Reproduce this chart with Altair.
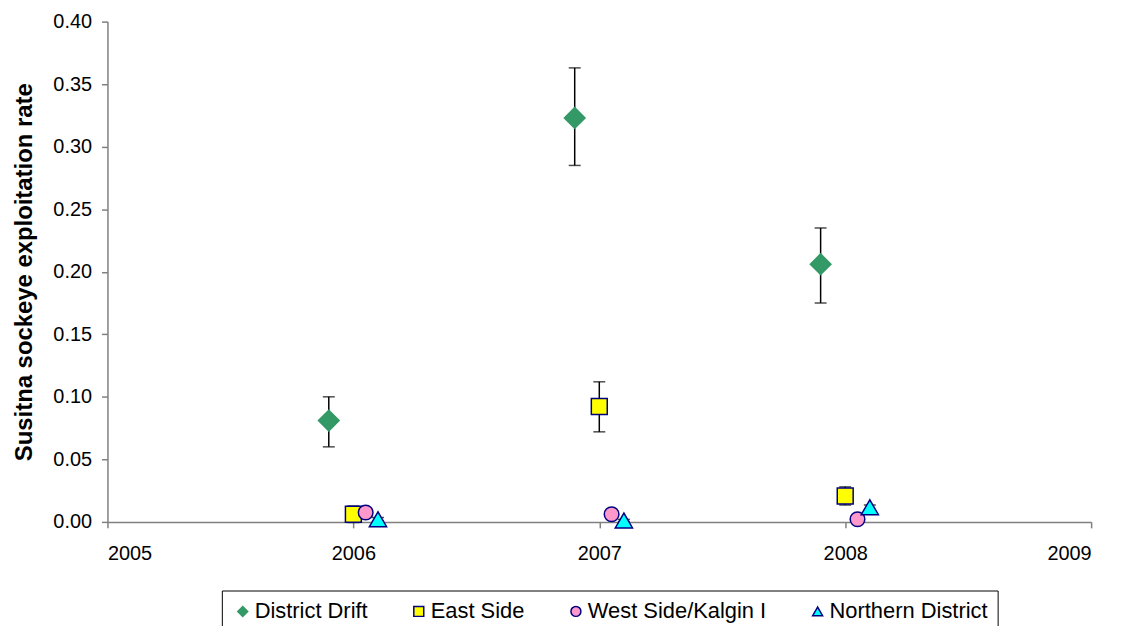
import altair as alt
import pandas as pd

# Series names (legend order)
series_names = ["District Drift", "East Side", "West Side/Kalgin I", "Northern District"]

# x positions (years, slightly offset per series as in the original chart)
dd_x = [2005.9, 2006.9, 2007.9]
es_x = [2006.0, 2007.0, 2008.0]
ws_x = [2006.05, 2007.05, 2008.05]
nd_x = [2006.1, 2007.1, 2008.1]

# exploitation rate estimates and error bar bounds
dd_y = [0.081, 0.323, 0.206]
dd_lo = [0.060, 0.285, 0.175]
dd_hi = [0.100, 0.363, 0.235]

es_y = [0.0061, 0.0922, 0.0207]
es_lo = [-0.0005, 0.072, 0.0135]
es_hi = [0.0127, 0.112, 0.028]

ws_y = [0.0075, 0.0061, 0.0021]
ws_lo = [0.0075, 0.0061, 0.0021]
ws_hi = [0.0075, 0.0061, 0.0021]

nd_y = [0.0021, 0.0011, 0.0117]
nd_lo = [0.0005, 0.0002, 0.0095]
nd_hi = [0.0035, 0.0020, 0.0135]

x_ticks = [2005, 2006, 2007, 2008, 2009]
y_ticks = [0.0, 0.05, 0.10, 0.15, 0.20, 0.25, 0.30, 0.35, 0.40]

fills = ["#339966", "#FFFF00", "#FF99CC", "#00FFFF"]
strokes = ["#339966", "#000080", "#000080", "#000080"]
shapes = ["diamond", "square", "circle", "triangle-up"]
sizes = [430, 256, 216, 300]

rows = []
for name, xs, ys, los, his in [
    (series_names[0], dd_x, dd_y, dd_lo, dd_hi),
    (series_names[1], es_x, es_y, es_lo, es_hi),
    (series_names[2], ws_x, ws_y, ws_lo, ws_hi),
    (series_names[3], nd_x, nd_y, nd_lo, nd_hi),
]:
    for x, y, lo, hi in zip(xs, ys, los, his):
        rows.append({"series": name, "x": x, "y": y, "lo": lo, "hi": hi})
df = pd.DataFrame(rows)
err_df = df[df["hi"] > df["lo"]]

FONT = "Liberation Sans"

x_enc = alt.X(
    "x:Q",
    scale=alt.Scale(domain=[2005, 2009], nice=False, zero=False),
    axis=alt.Axis(values=x_ticks, format="d", title=None, labelPadding=16),
)
y_scale = alt.Scale(domain=[0, 0.4], nice=False)
y_axis = alt.Axis(
    values=y_ticks,
    format=".2f",
    title="Susitna sockeye exploitation rate",
    titleFontSize=24,
    titleFontWeight="bold",
    titlePadding=16,
    labelPadding=10,
)

legend = alt.Legend(
    title=None,
    orient="none",
    legendX=115,
    legendY=572,
    direction="horizontal",
    columns=4,
    strokeColor="black",
    padding=10,
    labelFontSize=22,
    labelFont=FONT,
    labelColor="black",
    labelLimit=400,
    symbolSize=100,
    symbolStrokeWidth=1.5,
    labelOffset=1,
    columnPadding=40,
)

fill_enc = alt.Fill("series:N", scale=alt.Scale(domain=series_names, range=fills), legend=legend)
stroke_enc = alt.Stroke("series:N", scale=alt.Scale(domain=series_names, range=strokes), legend=legend)
shape_enc = alt.Shape("series:N", scale=alt.Scale(domain=series_names, range=shapes), legend=legend)

base_err = alt.Chart(err_df)
rules = base_err.mark_rule(color="black", strokeWidth=1.5).encode(
    x=x_enc, y=alt.Y("lo:Q", scale=y_scale, axis=y_axis), y2="hi:Q"
)
caps_lo = base_err.mark_tick(orient="horizontal", size=12, thickness=1.5, color="black").encode(
    x=x_enc, y=alt.Y("lo:Q", scale=y_scale, axis=y_axis)
)
caps_hi = base_err.mark_tick(orient="horizontal", size=12, thickness=1.5, color="black").encode(
    x=x_enc, y=alt.Y("hi:Q", scale=y_scale, axis=y_axis)
)

point_layers = []
for name, sz in zip(series_names, sizes):
    point_layers.append(
        alt.Chart(df)
        .transform_filter(alt.datum.series == name)
        .mark_point(filled=True, opacity=1, strokeWidth=1.5)
        .encode(
            x=x_enc,
            y=alt.Y("y:Q", scale=y_scale, axis=y_axis),
            fill=fill_enc,
            stroke=stroke_enc,
            shape=shape_enc,
            size=alt.value(sz),
        )
    )

chart = (
    alt.layer(rules, caps_lo, caps_hi, *point_layers)
    .properties(
        width=989,
        height=503,
        autosize=alt.AutoSizeParams(type="none"),
        padding={"left": 100, "top": 12, "right": 24, "bottom": 103},
        background="white",
    )
    .configure_view(stroke=None)
    .configure_axis(
        labelFont=FONT,
        titleFont=FONT,
        labelFontSize=20,
        labelColor="black",
        titleColor="black",
        domainColor="#808080",
        tickColor="#808080",
        domainWidth=1.5,
        tickWidth=1.5,
        tickSize=6,
        grid=False,
    )
)

chart.save("out.html", embed_options={"renderer": "svg", "actions": False})
